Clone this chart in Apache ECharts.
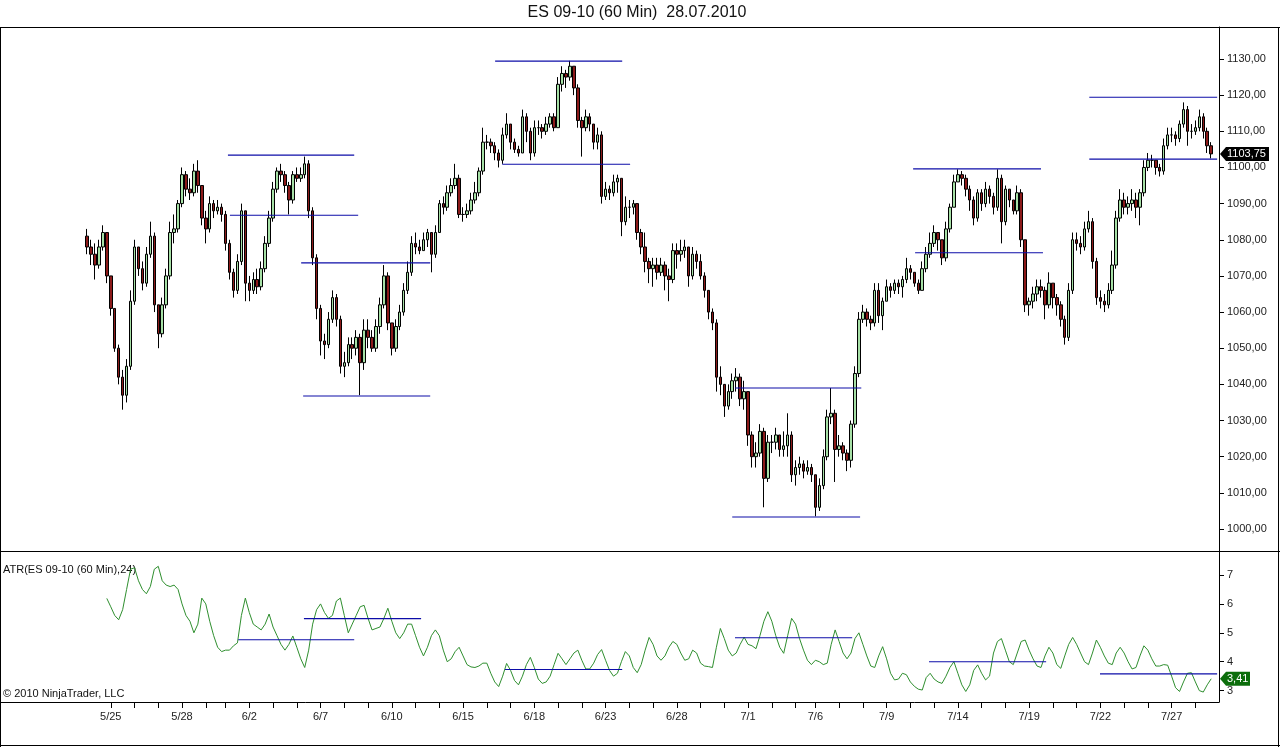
<!DOCTYPE html>
<html><head><meta charset="utf-8">
<script src="https://cdn.jsdelivr.net/npm/echarts@6/dist/echarts.min.js"></script>
<style>html,body{margin:0;padding:0;background:#fff;}#c{width:1280px;height:747px;}</style>
</head><body><div id="c"></div>
<script>
// ---------- DATA ----------
const titleText = 'ES 09-10 (60 Min)  28.07.2010';
const atrTitle = 'ATR(ES 09-10 (60 Min),24)';
const copyright = '\u00A9 2010 NinjaTrader, LLC';
const firstOpen = 1081;
const closes = [
1078,1076,1073,1078,1082,1070, 1061,1050,1042,1037,1045,1063, 1078,1072,1068,1076,1081,1062,
1054,1062,1070,1082,1083,1090, 1098,1094,1093,1099,1095,1086, 1083,1090,1088,1089,1087,
1079,1071,1066,1074,1088,1068, 1066,1069,1067,1072,1079,1086, 1094,1099,1098,1095,1091,1098,
1097,1098,1101,1088,1075,1061, 1052,1051,1058,1064,1058,1045, 1046,1051,1050,1053,1046,1055,
1053,1050,1056,1062,1070,1057, 1050,1056,1060,1066,1071,1079, 1078,1077,1080,1082,1076,1082,
1090,1089,1093,1095,1097,1087, 1087,1088,1091,1093,1099,1107, 1107,1106,1104,1102,1109,1112,
1107,1105,1104,1114,1110,1104, 1111,1111,1110,1112,1114,1111, 1123,1126,1125,1128,1122,1113,
1111,1114,1112,1107,1109,1092, 1094,1093,1096,1097,1085,1089, 1089,1090,1082,1078,1074,1072,
1073,1071,1073,1070,1069,1077, 1076,1077,1078,1070,1076,1074, 1070,1066,1060,1057,1042,1040,
1034,1038,1041,1042,1036,1038, 1026,1020,1021,1027,1014,1024, 1024,1026,1022,1023,1026,1015,
1017,1018,1016,1017,1015, 1006,1012,1020,1031,1032,1022, 1023,1021,1019,1029,1043,1058,
1060,1058,1057,1066,1059,1063, 1067,1066,1068,1067,1069,1072, 1071,1068,1066,1072,1076,1079,
1082,1080,1075,1083,1089,1096, 1098,1097,1094,1091,1086,1093, 1090,1094,1092,1089,1097,1085,
1094,1091,1088,1093,1080,1062, 1063,1065,1067,1066,1062,1068, 1064,1062,1058,1053,1066,1080,
1079,1078,1083,1085,1074,1064, 1063,1062,1066,1073,1086,1091, 1089,1090,1091,1089,1093,1100,
1102,1102,1100,1099,1106,1109, 1109,1108,1112,1116,1110,1110, 1111,1114,1110,1106,1103.75];
const highs = [
1083,1080,1079,1080,1084,1082, 1069,1061,1051,1044,1047,1066, 1080,1078,1074,1078,1085,1082,
1060,1064,1072,1085,1087,1091, 1100,1099,1097,1101,1102,1095, 1088,1092,1091,1091,1090,
1088,1080,1072,1076,1090,1087, 1070,1071,1072,1074,1081,1088, 1096,1100,1101,1099,1096,1099,
1100,1100,1103,1102,1089,1076, 1062,1054,1060,1066,1065,1059, 1049,1053,1053,1055,1054,1058,
1058,1055,1058,1064,1073,1071, 1056,1058,1062,1068,1074,1081, 1082,1080,1082,1083,1082,1084,
1091,1092,1095,1097,1101,1098, 1089,1090,1093,1096,1100,1111, 1109,1108,1107,1105,1111,1115,
1112,1108,1106,1116,1115,1111, 1113,1113,1112,1114,1115,1115, 1125,1128,1127,1129.5,1128,1123,
1114,1116,1115,1112,1111,1110, 1096,1095,1098,1098,1097,1092, 1091,1091,1090,1083,1082,1075,
1075,1075,1075,1074,1072,1079, 1079,1080,1080,1078,1078,1077, 1076,1071,1066,1061,1058,1045,
1039,1040,1043,1044.5,1043,1041, 1034,1027,1024,1029,1028,1026, 1026,1028,1026,1027,1032,1027,
1019,1020,1019,1019,1018, 1013,1014,1022,1033,1039,1033, 1026,1024,1022,1030,1045,1060,
1062,1061,1059,1068,1068,1064, 1069,1068,1069,1069,1070,1075, 1073,1071,1069,1074,1078,1082,
1084,1082,1080,1085,1090,1098, 1099.5,1099,1098,1095,1092,1094, 1094,1096,1095,1093,1099.5,1098,
1095,1093,1091,1095,1094,1080, 1064,1067,1069,1069,1067,1071, 1068,1065,1063,1059,1068,1082,
1082,1081,1085,1088,1086,1075, 1066,1065,1068,1077,1088,1094, 1093,1092,1094,1093,1094,1102,
1104,1103.5,1102,1101,1108,1111, 1111,1110,1113,1118,1117,1112, 1113,1116,1115,1111,1107];
const lows = [
1076,1073,1069,1072,1077,1068, 1059,1049,1040,1033,1035,1044, 1062,1070,1066,1067,1075,1060,
1050,1053,1061,1069,1079,1082, 1089,1092,1091,1092,1093,1084, 1079,1082,1086,1087,1085,
1077,1069,1064,1065,1073,1063, 1063,1065,1065,1066,1071,1078, 1085,1093,1096,1093,1087,1090,
1096,1096,1097,1086,1073,1058, 1048,1047,1050,1057,1056,1043, 1042,1045,1047,1048,1037,1044,
1050,1049,1049,1054,1061,1055, 1048,1049,1055,1059,1065,1070, 1076,1076,1077,1078,1071,1075,
1082,1087,1088,1092,1094,1086, 1085,1086,1087,1090,1092,1098, 1105,1104,1102,1100,1101,1108,
1105,1104,1103,1104,1107,1102, 1103,1109,1108,1109,1111,1110, 1111,1121,1122,1124,1120,1111,
1103,1110,1110,1105,1105,1090, 1091,1091,1092,1093,1081,1084, 1086,1087,1080,1076,1071,1068,
1067,1069,1070,1066,1063,1068, 1072,1074,1075,1067,1069,1072, 1069,1064,1058,1055,1038,1037,
1031,1033,1036,1038,1034,1033, 1023,1017,1017,1020,1006,1013, 1021,1022,1020,1020,1020,1013,
1012,1015,1014,1015,1013, 1003.5,1005,1011,1019,1029,1013, 1020,1019,1016,1017,1028,1042,
1057,1056,1055,1056,1057,1055, 1063,1064,1065,1065,1064,1068, 1069,1067,1065,1066,1071,1075,
1078,1077,1073,1074,1082,1089, 1096,1095,1092,1088,1084,1085, 1088,1089,1090,1087,1088,1079,
1084,1089,1087,1087,1078,1060, 1059,1061,1063,1064,1058,1061, 1061,1059,1056,1051,1052,1065,
1077,1076,1077,1082,1072,1062, 1061,1060,1061,1065,1072,1085, 1087,1087,1088,1086,1084,1092,
1099,1100,1098,1097.5,1098,1105, 1107,1106,1107,1111,1106,1108, 1109,1110,1108,1104,1102.5];
const atrStart = 5;
const atr = [
6.19,5.9,5.6,5.45,5.8,6.5,7.2, 7.25,6.8,6.5,6.35,6.6,7.2, 7.3,6.8,6.65,6.6,6.65,6.5,
6.0,5.6,5.4,5.0,5.3,6.2, 6.0,5.4,4.9,4.5,4.35, 4.4,4.4,4.55,4.65,5.6,6.2,
5.7,5.3,5.2,5.1,5.3,5.65, 5.2,4.9,4.6,4.4,4.6,4.89, 4.5,4.1,3.8,4.4,5.3,5.8,
6.0,5.7,5.5,5.6,6.1,6.2, 5.6,5.0,5.3,5.6,5.9,5.95, 5.5,5.1,5.15,5.2,5.5,5.85,
5.4,5.0,4.8,5.0,5.3,5.3, 4.9,4.5,4.2,4.5,4.9,5.1, 4.9,4.4,4.0,4.1,4.35,4.5,
4.2,3.9,3.82,3.8,3.85,3.95, 3.95,3.6,3.3,3.14,3.5,3.94, 3.7,3.35,3.2,3.5,3.9,4.15,
3.8,3.4,3.25,3.3,3.5,3.9, 4.29,4.1,3.9,4.1,4.3,4.4, 4.05,3.75,3.75,3.95,4.25,4.42,
4.05,3.7,3.5,3.6,4.0,4.35, 4.2,3.8,3.62,3.9,4.4,4.84, 4.6,4.2,4.05,4.2,4.5,4.7,
4.6,4.3,4.05,4.1,4.4,4.3, 3.95,3.85,3.83,3.8,4.5,5.15, 4.8,4.4,4.2,4.3,4.6,4.85,
4.6,4.55,4.45,4.9,5.4,5.73, 5.4,4.9,4.5,4.29,4.9,5.5, 5.3,4.8,4.4,4.05,3.9,
4.05,4.0,3.9,3.95,4.6,5.1, 4.7,4.3,4.1,4.3,4.8,5.0, 4.6,4.2,3.85,3.8,4.2,4.52,
4.1,3.6,3.37,3.4,3.6,3.55, 3.3,3.15,3.05,3.02,3.45,3.6, 3.4,3.3,3.25,3.5,3.8,4.0,
3.6,3.2,2.97,3.2,3.7,3.89, 3.6,3.37,3.5,4.3,4.7,4.8, 4.4,4.0,3.9,4.3,4.7,4.75,
4.4,4.1,3.85,3.8,4.2,4.5, 4.3,3.9,3.77,4.2,4.6,4.84, 4.6,4.3,4.0,3.9,4.3,4.75,
4.5,4.2,3.95,3.9,4.3,4.5, 4.3,4.0,3.75,3.8,4.2,4.55, 4.4,4.1,3.85,3.85,3.9,3.88,
3.5,3.1,2.97,3.3,3.6,3.62, 3.3,3.0,2.95,3.2,3.41];
// trading days: label and index of first bar of that day
const dayNames = ['5/24','5/25','5/26','5/27','5/28','5/31','6/1','6/2','6/3','6/4','6/7','6/8','6/9','6/10','6/11',
'6/14','6/15','6/16','6/17','6/18','6/21','6/22','6/23','6/24','6/25','6/28','6/29','6/30','7/1','7/2','7/5',
'7/6','7/7','7/8','7/9','7/12','7/13','7/14','7/15','7/16','7/19','7/20','7/21','7/22','7/23','7/26','7/27','7/28'];
const dayStarts = [0,6,12,18,24,30,35,41,47,53,59,65,71,77,83,89,95,101,107,113,119,125,131,137,143,149,155,161,
167,173,179,184,190,196,202,208,214,220,226,232,238,244,250,256,262,268,274,280];
const labelledDays = ['5/25','5/28','6/2','6/7','6/10','6/15','6/18','6/23','6/28','7/1','7/6','7/9','7/14','7/19','7/22','7/27'];
// horizontal level lines [fromBar, toBar, value]
const priceLevels = [
[35.6,67.5,1103.4],[36.1,68.5,1086.8],[54.1,86.7,1073.6],[54.6,86.7,1036.8],
[103.1,135.2,1129.4],[104.9,137.2,1100.9],[163.7,195.6,1039.0],[163.0,195.3,1003.3],
[208.7,241.0,1099.6],[209.2,241.5,1076.4],[253.2,285.5,1119.4],[253.2,285.5,1102.3]];
const atrLevels = [
[38.2,67.5,4.76],[54.8,84.4,5.49],[105.6,135.2,3.73],[163.7,193.3,4.83],[212.7,242.3,4.0],[255.9,285.5,3.58]];
const priceTicks = [1000,1010,1020,1030,1040,1050,1060,1070,1080,1090,1100,1110,1120,1130];
const atrTicks = [3,4,5,6,7];

// ---------- LAYOUT / STYLE ----------
const FONT = 'Liberation Sans, Arial, sans-serif';
const LEVEL_COLOR = '#0c0ca8';
const xMin = -21.73, xMax = 285.97;
const yMin = 993.91, yMax = 1138.85;
const aMin = 2.606, aMax = 7.83;
const fmt = v => Number(v).toFixed(2).replace('.', ',');

const candles = closes.map((c, i) => {
  const o = i === 0 ? firstOpen : closes[i - 1];
  return [i, o, c, Math.min(lows[i], o, c), Math.max(highs[i], o, c)];
});
const atrData = atr.map((v, k) => [atrStart + k, v]);
const labelMap = {};
dayNames.forEach((d, k) => { labelMap[dayStarts[k]] = d; });
const tickVals = dayStarts.slice(1);
const labelVals = labelledDays.map(d => dayStarts[dayNames.indexOf(d)]);
const levelSeries = (arr, axis) => arr.map(([a, b, v]) => ({
  type: 'line', xAxisIndex: axis, yAxisIndex: axis, data: [[a, v], [b, v]],
  showSymbol: false, silent: true, z: 3,
  lineStyle: {color: LEVEL_COLOR, width: 1.1}, itemStyle: {color: LEVEL_COLOR}
}));

const chart = echarts.init(document.getElementById('c'), null, {renderer: 'canvas'});
chart.setOption({
  animation: false,
  backgroundColor: '#fff',
  grid: [
    {left: 1, right: 61, top: 27, height: 524},
    {left: 1, right: 61, top: 551, height: 151}
  ],
  xAxis: [
    {gridIndex: 0, type: 'value', min: xMin, max: xMax, show: false},
    {gridIndex: 1, type: 'value', min: xMin, max: xMax,
     axisLine: {show: true, onZero: false, lineStyle: {color: '#000', width: 1}},
     axisTick: {show: true, customValues: tickVals, length: 6, lineStyle: {color: '#000'}},
     axisLabel: {show: true, customValues: labelVals, formatter: v => labelMap[Math.round(v)] || '',
                 color: '#222', fontSize: 11, fontFamily: FONT, margin: 9},
     splitLine: {show: false}}
  ],
  yAxis: [
    {gridIndex: 0, type: 'value', position: 'right', min: yMin, max: yMax,
     axisLine: {show: true, onZero: false, lineStyle: {color: '#000'}},
     axisTick: {show: true, customValues: priceTicks, length: 5, lineStyle: {color: '#000'}},
     axisLabel: {show: true, customValues: priceTicks, formatter: v => fmt(v), color: '#222',
                 fontSize: 11, fontFamily: FONT, margin: 8},
     splitLine: {show: false}},
    {gridIndex: 1, type: 'value', position: 'right', min: aMin, max: aMax,
     axisLine: {show: true, onZero: false, lineStyle: {color: '#000'}},
     axisTick: {show: true, customValues: atrTicks, length: 5, lineStyle: {color: '#000'}},
     axisLabel: {show: true, customValues: atrTicks, formatter: v => String(v), color: '#222',
                 fontSize: 11, fontFamily: FONT, margin: 8},
     splitLine: {show: false}}
  ],
  series: [
    {type: 'candlestick', xAxisIndex: 0, yAxisIndex: 0, data: candles,
     dimensions: ['idx', 'open', 'close', 'lowest', 'highest'],
     encode: {x: 'idx', y: ['open', 'close', 'lowest', 'highest']},
     barWidth: 3,
     itemStyle: {color: '#a6e0a6', color0: '#8c1a1a', borderColor: '#000', borderColor0: '#000', borderWidth: 1}},
    {type: 'line', xAxisIndex: 1, yAxisIndex: 1, data: atrData, showSymbol: false,
     lineStyle: {color: '#2f8f2f', width: 1}, itemStyle: {color: '#2f8f2f'}}
  ].concat(levelSeries(priceLevels, 0), levelSeries(atrLevels, 1))
});

// ---------- text, frame and last-value boxes ----------
const lastC = closes[closes.length - 1];
const lastA = atr[atr.length - 1];
const yP = chart.convertToPixel({yAxisIndex: 0}, lastC);
const yA = chart.convertToPixel({yAxisIndex: 1}, lastA);
const L = (x1, y1, x2, y2) => ({type: 'line', shape: {x1, y1, x2, y2}, style: {stroke: '#000', lineWidth: 1}, silent: true});
chart.setOption({
  graphic: [
    {type: 'text', x: 637, y: 13, style: {text: titleText, font: '16px ' + FONT, fill: '#111', align: 'center', verticalAlign: 'middle'}},
    L(0, 27.5, 1280, 27.5), L(0, 551.5, 1280, 551.5), L(0.5, 27, 0.5, 747), L(1278.5, 27, 1278.5, 747), L(0, 745.5, 1280, 745.5),
    {type: 'text', left: 3, top: 564, style: {text: atrTitle, font: '11px ' + FONT, fill: '#111'}},
    {type: 'text', left: 3, top: 688, style: {text: copyright, font: '11px ' + FONT, fill: '#111'}},
    {type: 'polygon', shape: {points: [[1220, yP], [1226, yP - 7], [1269, yP - 7], [1269, yP + 7], [1226, yP + 7]]}, style: {fill: '#000'}},
    {type: 'text', x: 1227, y: yP, style: {text: fmt(lastC), font: '11px ' + FONT, fill: '#fff', verticalAlign: 'middle'}},
    {type: 'polygon', shape: {points: [[1220, yA], [1226, yA - 7], [1250, yA - 7], [1250, yA + 7], [1226, yA + 7]]}, style: {fill: '#0c6e0c'}},
    {type: 'text', x: 1227, y: yA, style: {text: fmt(lastA), font: '11px ' + FONT, fill: '#fff', verticalAlign: 'middle'}}
  ]
});
</script></body></html>
